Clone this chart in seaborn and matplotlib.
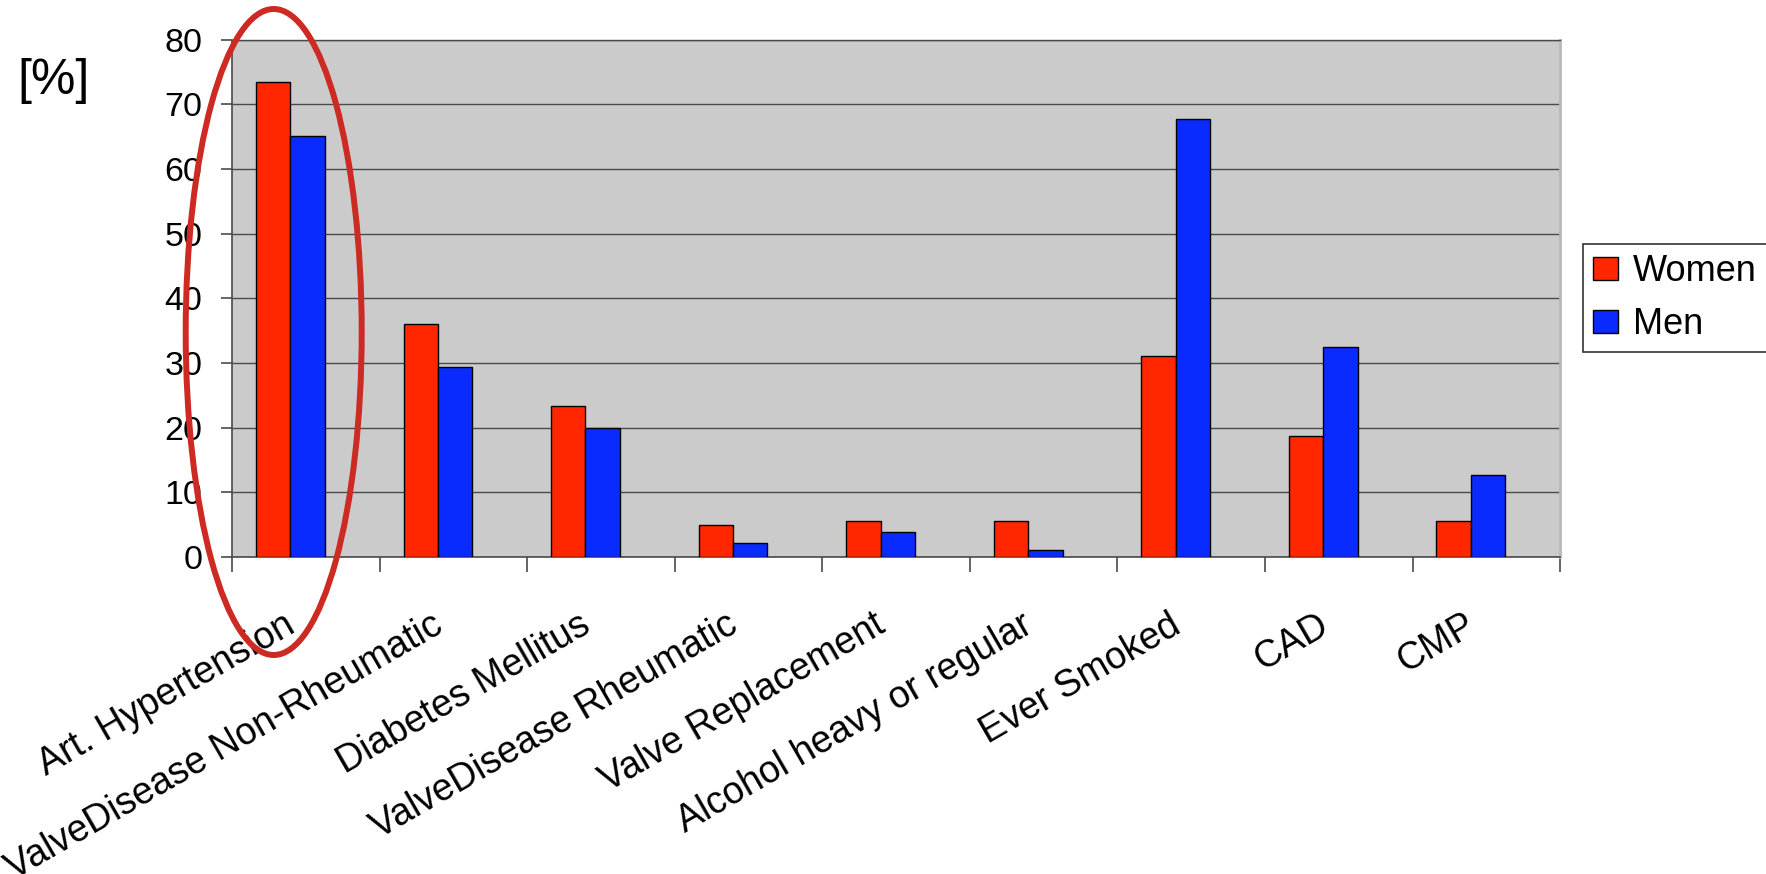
import numpy as np
import pandas as pd
import matplotlib
matplotlib.use("Agg")
import matplotlib.pyplot as plt
from matplotlib.patches import Ellipse, Patch
from matplotlib.transforms import ScaledTranslation
import seaborn as sns

# Risk factor prevalence by sex
factors = ["Art. Hypertension", "ValveDisease Non-Rheumatic", "Diabetes Mellitus",
           "ValveDisease Rheumatic", "Valve Replacement", "Alcohol heavy or regular",
           "Ever Smoked", "CAD", "CMP"]
women = [73.4, 36.0, 23.3, 5.0, 5.5, 5.5, 31.0, 18.7, 5.5]
men = [65.1, 29.4, 20.0, 2.2, 3.9, 1.1, 67.7, 32.5, 12.7]
groups = ["Women", "Men"]
y_ticks = [0, 10, 20, 30, 40, 50, 60, 70, 80]

df = pd.DataFrame({
    "factor": factors * 2,
    "pct": women + men,
    "sex": ["Women"] * len(factors) + ["Men"] * len(factors),
})

sns.set_theme(style="white")
plt.rcParams["font.family"] = ["Liberation Sans", "DejaVu Sans"]
plt.rcParams["text.color"] = "black"
plt.rcParams["xtick.color"] = "black"
plt.rcParams["ytick.color"] = "black"
plt.rcParams["xtick.labelcolor"] = "black"
plt.rcParams["ytick.labelcolor"] = "black"

RED = "#FF2600"
BLUE = "#0A2BFF"
GRID = "#4a4a4a"

fig = plt.figure(figsize=(17.66, 8.74), dpi=100)
fig.patch.set_facecolor("white")
ax = fig.add_axes([0.1314, 0.3627, 0.752, 0.5921])
ax.set_facecolor("#CBCBCB")

sns.barplot(data=df, x="factor", y="pct", hue="sex", hue_order=groups,
            order=factors, palette=[RED, BLUE], width=0.466, saturation=1,
            edgecolor="black", linewidth=1.0, ax=ax, legend=False, zorder=3)

# category frame: bars sit slightly left of each slot's centre
shift = 0.105
ax.set_xlim(-0.5 + shift, len(factors) - 0.5 + shift)
ax.set_ylim(0, 80)
ax.set_yticks(y_ticks)
ax.set_xticks(np.arange(len(factors)))
ax.set_xticks(np.arange(len(factors) + 1) - 0.5 + shift, minor=True)

ax.yaxis.grid(True, color=GRID, linewidth=1.0, zorder=1)
ax.xaxis.grid(False)
ax.set_axisbelow(True)

for side in ["left", "bottom"]:
    ax.spines[side].set_visible(True)
    ax.spines[side].set_color(GRID)
    ax.spines[side].set_linewidth(1.2)
ax.spines["top"].set_color(GRID)
ax.spines["top"].set_linewidth(1.0)
ax.spines["right"].set_color("#B8B8B8")
ax.spines["right"].set_linewidth(2.0)

ax.tick_params(axis="y", which="major", direction="out", length=8, width=1.2,
               color=GRID, labelsize=24.5, pad=13.5, left=True,
               labelcolor="black")
ax.tick_params(axis="x", which="major", length=0, labelsize=27, pad=36,
               labelcolor="black")
ax.tick_params(axis="x", which="minor", direction="out", length=11, width=1.2,
               color=GRID, bottom=True)
nudge = ScaledTranslation(-7 / 100, 0, fig.dpi_scale_trans)
for lab in ax.get_xticklabels():
    lab.set_rotation(30)
    lab.set_ha("right")
    lab.set_rotation_mode("anchor")
    lab.set_transform(lab.get_transform() + nudge)
ax.set_xlabel("")
ax.set_ylabel("")

fig.text(0.0305, 0.907, "[%]", fontsize=36, ha="center", va="center")

handles = [Patch(facecolor=RED, edgecolor="black", linewidth=1.0),
           Patch(facecolor=BLUE, edgecolor="black", linewidth=1.0)]
leg = fig.legend(handles, groups, loc="upper left",
                 bbox_to_anchor=(1583 / 1766, 1 - 244 / 874),
                 fontsize=26, frameon=True, fancybox=False, shadow=False,
                 handlelength=0.7, handleheight=0.6, handletextpad=0.4,
                 labelspacing=0.49, borderpad=0.28, borderaxespad=0)
leg.get_frame().set_edgecolor("black")
leg.get_frame().set_linewidth(1.2)
leg.get_frame().set_facecolor("white")

# highlight ring around the first risk factor
ring = Ellipse((273.7 / 1766, 1 - 332 / 874), 176 / 1766, 646 / 874,
               transform=fig.transFigure, fill=False, edgecolor="#CC2A22",
               linewidth=4.3, zorder=10, clip_on=False)
fig.add_artist(ring)

fig.savefig("out.png", dpi=100, facecolor="white")
